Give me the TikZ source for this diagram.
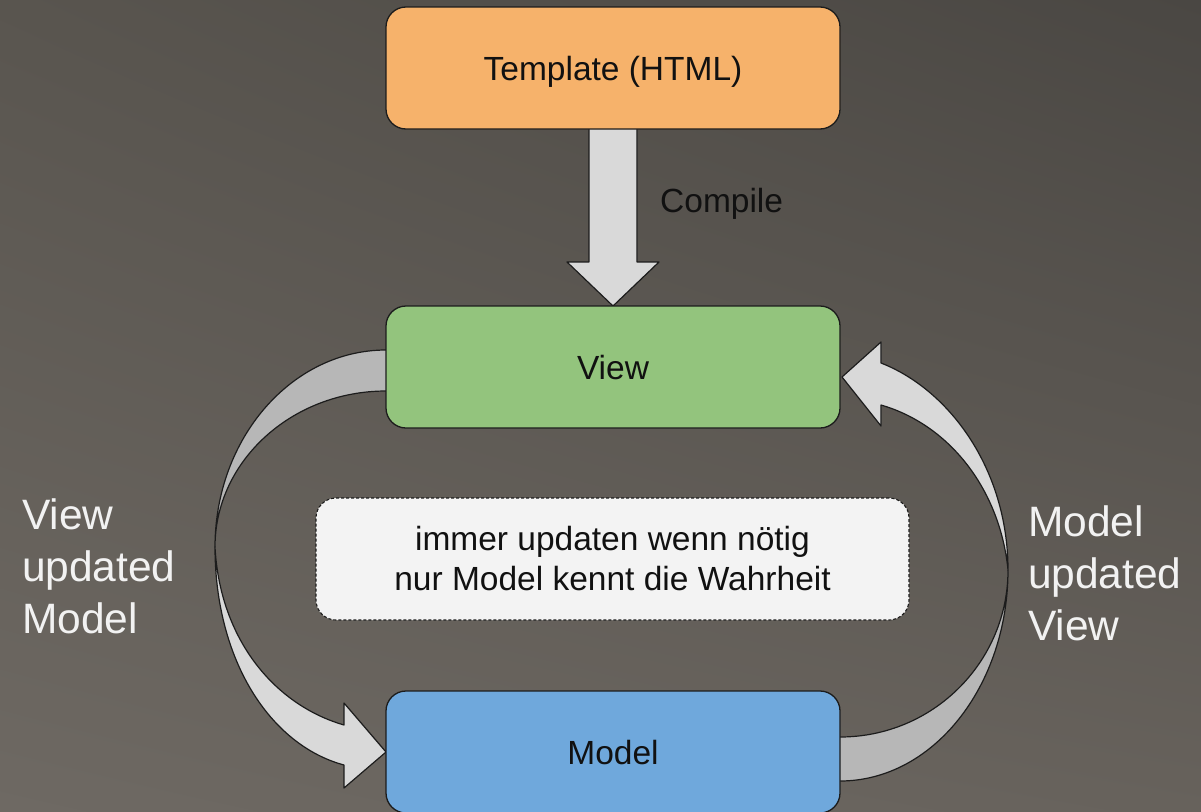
\documentclass[tikz,border=0pt]{standalone}
\usepackage{fontspec}
\setmainfont{Liberation Sans}
\usetikzlibrary{calc,shadings}

\definecolor{bgTL}{HTML}{59554F}
\definecolor{bgTR}{HTML}{4A4743}
\definecolor{bgBL}{HTML}{6E6963}
\definecolor{bgBR}{HTML}{67625C}
\definecolor{cOrange}{HTML}{F6B26B}
\definecolor{cGreen}{HTML}{93C47D}
\definecolor{cBlue}{HTML}{6FA8DC}
\definecolor{cNote}{HTML}{F3F3F3}
\definecolor{cLight}{HTML}{D9D9D9}
\definecolor{cDark}{HTML}{B7B7B7}
\definecolor{cLine}{HTML}{1C1C1C}
\definecolor{cText}{HTML}{111111}
\definecolor{cSide}{HTML}{F2F2F2}

\pgfdeclarelayer{backdrop}
\pgfdeclarelayer{ribbons}
\pgfsetlayers{backdrop,ribbons,main}

\begin{document}
\begin{tikzpicture}[x=1pt,y=-1pt,
  box/.style={draw=cLine, line width=1.3pt, rounded corners=20pt,
    minimum width=454pt, minimum height=122pt, inner sep=0pt, outer sep=0pt,
    font=\fontsize{33.5}{40}\selectfont, text=cText,
    text height=24pt, text depth=0pt},
  notebox/.style={draw=cLine, line width=1.1pt, dash pattern=on 3pt off 2pt,
    fill=cNote, rounded corners=20pt, minimum width=593pt, minimum height=122pt,
    align=center, inner sep=0pt, outer sep=0pt,
    font=\fontsize{33.5}{40}\selectfont, text=cText},
  sidelabel/.style={align=left, inner sep=0pt, outer sep=0pt, anchor=west,
    text=cSide, font=\fontsize{42.5}{52}\selectfont},
  ribbonlight/.style={fill=cLight, draw=cLine, line width=1.2pt, line join=round},
  ribbondark/.style={fill=cDark, draw=cLine, line width=1.2pt, line join=round},
]
\useasboundingbox (0,0) rectangle (1201,811);
\clip (0,0) rectangle (1201,811);

% backdrop
\begin{pgfonlayer}{backdrop}
\shade[upper left=bgTL, upper right=bgTR, lower left=bgBL, lower right=bgBR]
  (0,0) rectangle (1201,811);
\end{pgfonlayer}

% boxes
\node[box, fill=cOrange] (tmpl)  at (613,68)  {Template (HTML)};
\node[box, fill=cGreen]  (view)  at (613,367) {View};
\node[box, fill=cBlue]   (model) at (613,752) {Model};
\node[notebox] (note) at (612.5,559) {immer updaten wenn nötig\\nur Model kennt die Wahrheit};

% anchor points of the ribbon arrows
\coordinate (LTo) at ($(view.west)+(0,-17)$);
\coordinate (LTi) at ($(view.west)+(0,24)$);
\coordinate (LM)  at (215,547);
\coordinate (LHi) at ($(model.west)+(-42,-27)$);
\coordinate (LHo) at ($(model.west)+(-42,13)$);
\coordinate (LBu) at ($(model.west)+(-42,-49)$);
\coordinate (LBl) at ($(model.west)+(-42,36)$);

\coordinate (RBi) at ($(model.east)+(0,-15)$);
\coordinate (RBo) at ($(model.east)+(0,29)$);
\coordinate (RM)  at (1008,570);
\coordinate (RHo) at ($(view.east)+(41,-4)$);
\coordinate (RHi) at ($(view.east)+(41,38)$);
\coordinate (RBu) at ($(view.east)+(41,-25)$);
\coordinate (RBl) at ($(view.east)+(41,59)$);
\coordinate (RTip) at ($(view.east)+(2,10)$);

\begin{pgfonlayer}{ribbons}
% left ribbon: View -> Model
\path[ribbondark] (LTo) .. controls (292,350) and (215,438) .. (LM)
  .. controls (215,461) and (292,391) .. (LTi);
\path[ribbonlight] (LM) .. controls (215,660) and (270,745) .. (LHo)
  -- (LBl) -- (model.west) -- (LBu) -- (LHi)
  .. controls (275,705) and (220,640) .. (LM) -- cycle;

% right ribbon: Model -> View
\path[ribbondark] (RBo) .. controls (933,781) and (1008,686) .. (RM)
  .. controls (1008,662) and (933,737) .. (RBi);
\path[ribbonlight] (RM) .. controls (1008,470) and (950,390) .. (RHo)
  -- (RBu) -- (RTip) -- (RBl) -- (RHi)
  .. controls (950,425) and (1000,490) .. (RM) -- cycle;

% compile arrow: Template -> View
\path[ribbonlight] ($(tmpl.south)+(-24,0)$) |- ($(view.north)+(-46,-44)$)
  -- (view.north) -- ($(view.north)+(46,-44)$) -| ($(tmpl.south)+(24,0)$);
\end{pgfonlayer}

% labels
\node[anchor=base west, inner sep=0pt, text=cText,
  font=\fontsize{33.5}{40}\selectfont] (compile) at (660,212) {Compile};
\node[sidelabel] (leftlbl)  at (22,566)   {View\\updated\\Model};
\node[sidelabel] (rightlbl) at (1028,573) {Model\\updated\\View};
\end{tikzpicture}
\end{document}
